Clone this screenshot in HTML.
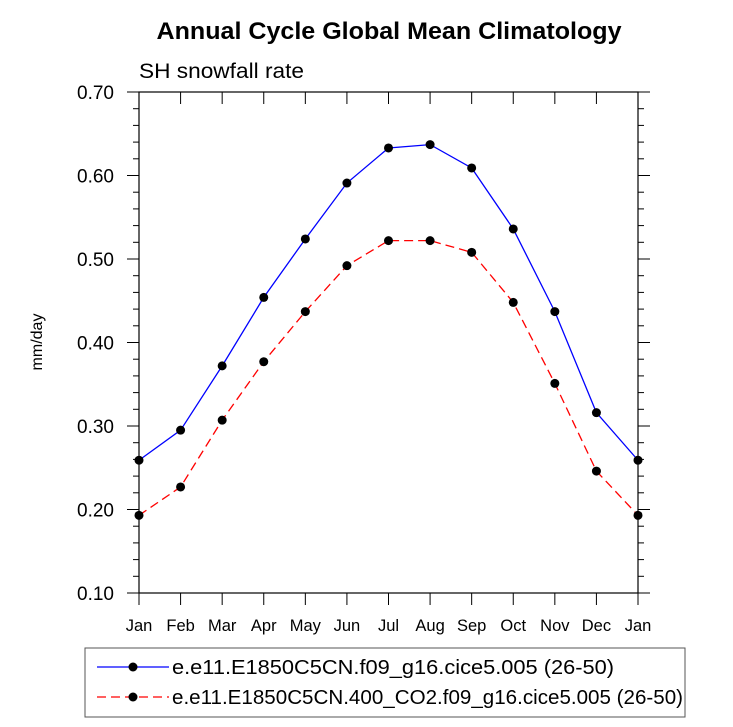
<!DOCTYPE html>
<html><head><meta charset="utf-8"><style>
body{margin:0;background:#fff;font-family:"Liberation Sans",sans-serif}
svg text{font-family:"Liberation Sans",sans-serif}
</style></head><body>
<svg id="c" width="733" height="722" xmlns="http://www.w3.org/2000/svg">
<text x="389" y="39" text-anchor="middle" font-size="24" font-weight="bold" textLength="465" lengthAdjust="spacingAndGlyphs">Annual Cycle Global Mean Climatology</text>
<text x="139" y="78" font-size="21" textLength="165" lengthAdjust="spacingAndGlyphs">SH snowfall rate</text>
<text transform="translate(42,342) rotate(-90)" text-anchor="middle" font-size="16">mm/day</text>
<g id="ax"></g><g id="series"></g>
<g>
<rect x="85" y="648" width="600" height="69" fill="none" stroke="#555" stroke-width="1"/>
<line x1="97" y1="667" x2="169" y2="667" stroke="#0000ff" stroke-width="1.3"/>
<circle cx="133" cy="667" r="4.5" fill="#000"/>
<text x="172" y="674" font-size="20" textLength="442" lengthAdjust="spacingAndGlyphs">e.e11.E1850C5CN.f09_g16.cice5.005 (26-50)</text>
<line x1="97" y1="697" x2="169" y2="697" stroke="#ff0000" stroke-width="1.3" stroke-dasharray="9,5"/>
<circle cx="133" cy="697" r="4.5" fill="#000"/>
<text x="172" y="704" font-size="20" textLength="511" lengthAdjust="spacingAndGlyphs">e.e11.E1850C5CN.400_CO2.f09_g16.cice5.005 (26-50)</text>
</g>
</svg>
<script>
const months=["Jan","Feb","Mar","Apr","May","Jun","Jul","Aug","Sep","Oct","Nov","Dec","Jan"];
const controlValues=[0.259,0.295,0.372,0.454,0.524,0.591,0.633,0.637,0.609,0.536,0.437,0.316,0.259];
const co2Values=[0.193,0.227,0.307,0.377,0.437,0.492,0.522,0.522,0.508,0.448,0.351,0.246,0.193];
const yTicks=[0.10,0.20,0.30,0.40,0.50,0.60,0.70];
const L=139,R=638,T=92,B=593,yMin=0.1,yMax=0.7;
const ns="http://www.w3.org/2000/svg";
function xs(i){return L+(R-L)*i/(months.length-1);}
function ys(v){return B-(v-yMin)/(yMax-yMin)*(B-T);}
function mk(tag,attrs,parent){const e=document.createElementNS(ns,tag);for(const k in attrs)e.setAttribute(k,attrs[k]);parent.appendChild(e);return e;}
const ax=document.getElementById('ax');
const frame=mk('rect',{x:L,y:T,width:R-L,height:B-T,fill:'none',stroke:'#000','stroke-width':1.2},ax);


for(let v=yMin;v<=yMax+1e-9;v+=0.02){const y=ys(v);const major=Math.abs(Math.round(v*10)-v*10)<1e-6;const len=major?12:6;
mk('line',{x1:L-len,y1:y,x2:L,y2:y,stroke:'#000','stroke-width':1},ax);
mk('line',{x1:R,y1:y,x2:R+len,y2:y,stroke:'#000','stroke-width':1},ax);}
yTicks.forEach(v=>{const t=mk('text',{x:L-25,y:ys(v)+7,'text-anchor':'end','font-size':19},ax);t.textContent=v.toFixed(2);

});
months.forEach((m,i)=>{const x=xs(i);
mk('line',{x1:x,y1:B,x2:x,y2:B+12,stroke:'#000','stroke-width':1},ax);
mk('line',{x1:x,y1:T,x2:x,y2:T+12,stroke:'#000','stroke-width':1},ax);
const t=mk('text',{x:x,y:B+38,'text-anchor':'middle','font-size':16.5},ax);t.textContent=m;

});
const sg=document.getElementById('series');
function draw(vals,color,dash,name){const pts=vals.map((v,i)=>xs(i)+','+ys(v)).join(' ');
const pl=mk('polyline',{points:pts,fill:'none',stroke:color,'stroke-width':1.3},sg);if(dash)pl.setAttribute('stroke-dasharray',dash);


vals.forEach((v,i)=>{const c=mk('circle',{cx:xs(i),cy:ys(v),r:4.5,fill:'#000'},sg);

});}
draw(controlValues,'#0000ff',null,'control');
draw(co2Values,'#ff0000','9,5','co2');
</script>
</body></html>
